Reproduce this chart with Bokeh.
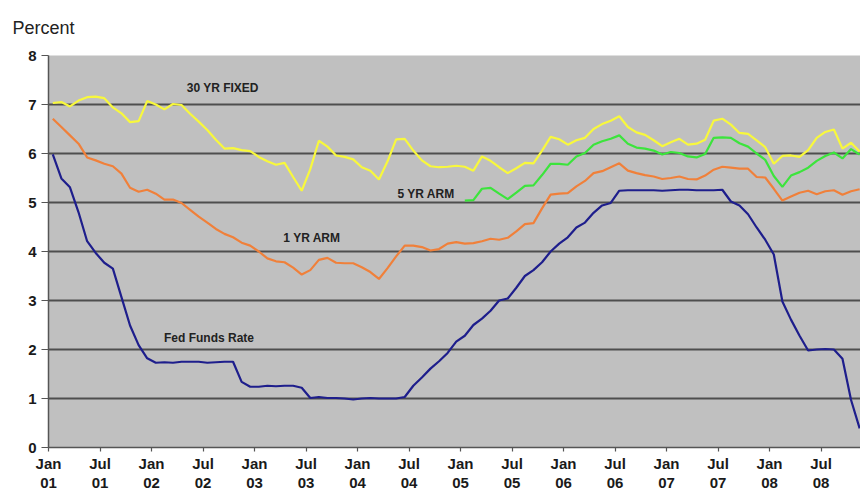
import numpy as np
from bokeh.plotting import figure
from bokeh.models import Range1d, FixedTicker, ColumnDataSource
from bokeh.core.properties import value
from bokeh.embed import file_html
from bokeh.resources import INLINE

# Monthly values, Jan 2001 .. Nov 2008 (95 months)
fixed30 = [7.03, 7.05, 6.96, 7.08, 7.15, 7.16, 7.13, 6.94, 6.82, 6.64, 6.66, 7.07,
           7.00, 6.90, 7.01, 6.99, 6.81, 6.65, 6.48, 6.28, 6.10, 6.11, 6.07, 6.05,
           5.93, 5.84, 5.77, 5.81, 5.52, 5.24, 5.68, 6.26, 6.14, 5.96, 5.93, 5.88,
           5.72, 5.65, 5.47, 5.84, 6.29, 6.30, 6.06, 5.86, 5.74, 5.72, 5.73, 5.75,
           5.73, 5.65, 5.94, 5.85, 5.72, 5.60, 5.70, 5.81, 5.80, 6.06, 6.34, 6.29,
           6.18, 6.27, 6.32, 6.50, 6.60, 6.67, 6.76, 6.54, 6.43, 6.38, 6.27, 6.15,
           6.23, 6.30, 6.18, 6.20, 6.28, 6.67, 6.71, 6.59, 6.42, 6.40, 6.27, 6.13,
           5.79, 5.95, 5.96, 5.93, 6.07, 6.32, 6.44, 6.49, 6.10, 6.22, 6.04]

arm1 = [6.71, 6.54, 6.37, 6.20, 5.92, 5.86, 5.79, 5.74, 5.59, 5.30, 5.22, 5.26,
        5.18, 5.06, 5.06, 4.99, 4.85, 4.71, 4.59, 4.46, 4.36, 4.29, 4.18, 4.12,
        4.00, 3.86, 3.80, 3.78, 3.67, 3.53, 3.62, 3.83, 3.87, 3.77, 3.76, 3.76,
        3.68, 3.58, 3.44, 3.66, 3.90, 4.12, 4.12, 4.09, 4.02, 4.05, 4.16, 4.19,
        4.16, 4.17, 4.21, 4.26, 4.24, 4.28, 4.41, 4.56, 4.58, 4.88, 5.16, 5.18,
        5.19, 5.33, 5.44, 5.60, 5.64, 5.72, 5.80, 5.65, 5.60, 5.56, 5.53, 5.48,
        5.50, 5.53, 5.48, 5.47, 5.55, 5.67, 5.73, 5.71, 5.69, 5.69, 5.52, 5.51,
        5.28, 5.04, 5.12, 5.20, 5.24, 5.17, 5.23, 5.25, 5.16, 5.23, 5.27]

# 5 YR ARM starts Jan 2005 (month index 48)
arm5_start = 48
arm5 = [5.04, 5.05, 5.28, 5.30, 5.18, 5.07, 5.20, 5.34, 5.35, 5.56, 5.79, 5.79,
        5.77, 5.94, 6.01, 6.18, 6.25, 6.30, 6.37, 6.20, 6.12, 6.10, 6.06, 5.98,
        6.03, 6.01, 5.94, 5.92, 5.99, 6.32, 6.33, 6.32, 6.21, 6.14, 6.00, 5.87,
        5.54, 5.32, 5.55, 5.62, 5.71, 5.85, 5.95, 6.02, 5.90, 6.09, 5.98]

fed_funds = [5.98, 5.49, 5.31, 4.80, 4.21, 3.97, 3.77, 3.65, 3.07, 2.49, 2.09, 1.82,
             1.73, 1.74, 1.73, 1.75, 1.75, 1.75, 1.73, 1.74, 1.75, 1.75, 1.34, 1.24,
             1.24, 1.26, 1.25, 1.26, 1.26, 1.22, 1.01, 1.03, 1.01, 1.01, 1.00, 0.98,
             1.00, 1.01, 1.00, 1.00, 1.00, 1.03, 1.26, 1.43, 1.61, 1.76, 1.93, 2.16,
             2.28, 2.50, 2.63, 2.79, 3.00, 3.04, 3.26, 3.50, 3.62, 3.78, 4.00, 4.16,
             4.29, 4.49, 4.59, 4.79, 4.94, 4.99, 5.24, 5.25, 5.25, 5.25, 5.25, 5.24,
             5.25, 5.26, 5.26, 5.25, 5.25, 5.25, 5.26, 5.02, 4.94, 4.76, 4.49, 4.24,
             3.94, 2.98, 2.61, 2.28, 1.98, 2.00, 2.01, 2.00, 1.81, 0.97, 0.39]

tick_labels = ["Jan\n01", "Jul\n01", "Jan\n02", "Jul\n02", "Jan\n03", "Jul\n03",
               "Jan\n04", "Jul\n04", "Jan\n05", "Jul\n05", "Jan\n06", "Jul\n06",
               "Jan\n07", "Jul\n07", "Jan\n08", "Jul\n08"]

series_names = ["30 YR FIXED", "5 YR ARM", "1 YR ARM", "Fed Funds Rate"]
series_colors = ["#F8F83C", "#3CE43C", "#F0803A", "#1E1E8C"]
# label anchor positions (month index, percent)
label_x = [20.3, 44.0, 30.7, 18.7]
label_y = [7.33, 5.18, 4.27, 2.24]

unit_label = "Percent"

FONT = "Liberation Sans"

n = len(fed_funds)
x_all = np.arange(n) + 0.5
x_arm5 = np.arange(arm5_start, arm5_start + len(arm5)) + 0.5

p = figure(width=860, height=493, x_range=Range1d(0, 94.6), y_range=Range1d(0, 8),
           output_backend="svg", toolbar_location=None,
           min_border_left=48, min_border_right=0, min_border_top=55, min_border_bottom=46,
           background_fill_color="#C0C0C0", border_fill_color="white",
           outline_line_color=None)

p.title.text = unit_label
p.title.align = "left"
p.title.vertical_align = "top"
p.title.offset = -36
p.title.standoff = 32
p.title.text_font = FONT
p.title.text_font_size = "18px"
p.title.text_font_style = "normal"
p.title.text_color = "#222222"

# grid
p.xgrid.visible = False
p.ygrid.ticker = FixedTicker(ticks=[1, 2, 3, 4, 5, 6, 7])
p.ygrid.grid_line_color = "#4E4E4E"
p.ygrid.grid_line_width = 1.8

# axes
tick_pos = list(range(0, 6 * len(tick_labels), 6))
p.xaxis.ticker = FixedTicker(ticks=tick_pos)
p.xaxis.major_label_overrides = {t: lab for t, lab in zip(tick_pos, tick_labels)}
p.yaxis.ticker = FixedTicker(ticks=list(range(0, 9)))
for ax in (p.xaxis, p.yaxis):
    ax.axis_line_color = "#555555"
    ax.axis_line_width = 1.5
    ax.major_tick_line_color = "#555555"
    ax.major_tick_line_width = 1.2
    ax.minor_tick_line_color = None
    ax.major_tick_in = 0
    ax.major_label_text_font = FONT
    ax.major_label_text_font_size = "15px"
    ax.major_label_text_font_style = "bold"
    ax.major_label_text_color = "#1A1A1A"
p.xaxis.major_label_text_line_height = 1.13
p.xaxis.major_tick_out = 4
p.xaxis.major_label_standoff = 3
p.yaxis.major_tick_out = 7
p.yaxis.major_label_standoff = 5

# lines
p.line(x_all, fed_funds, line_color=series_colors[3], line_width=2.2)
p.line(x_all, arm1, line_color=series_colors[2], line_width=2.2)
p.line(x_arm5, arm5, line_color=series_colors[1], line_width=2.2)
p.line(x_all, fixed30, line_color=series_colors[0], line_width=2.2)

src = ColumnDataSource(dict(x=label_x, y=label_y, text=series_names))
p.text(x="x", y="y", text="text", source=src, text_font=value(FONT),
       text_font_size="12px", text_font_style="bold", text_color="#222222",
       text_align="center", text_baseline="middle")

open("out.html", "w").write(file_html(p, INLINE))
